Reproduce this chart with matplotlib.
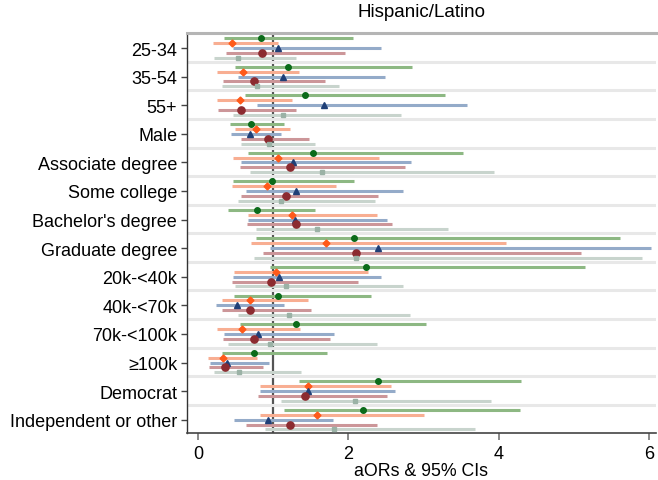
"""
Forest plot: adjusted odds ratios and 95% CIs, Hispanic/Latino panel.

Five models per covariate, drawn as stacked CI bars with point estimates.
Output: out.png (658x481)
"""

import matplotlib

matplotlib.use("Agg")
import matplotlib.pyplot as plt

CATEGORIES = [
    "25-34",
    "35-54",
    "55+",
    "Male",
    "Associate degree",
    "Some college",
    "Bachelor's degree",
    "Graduate degree",
    "20k-<40k",
    "40k-<70k",
    "70k-<100k",
    "≥100k",
    "Democrat",
    "Independent or other",
]

# (estimate, lower, upper) per category, one list per model
GREEN_EST = [0.84, 1.20, 1.42, 0.70, 1.53, 0.99, 0.78, 2.08, 2.23, 1.06, 1.30, 0.74, 2.40, 2.20]
GREEN_LO = [0.35, 0.50, 0.62, 0.43, 0.66, 0.47, 0.40, 0.77, 0.96, 0.48, 0.56, 0.32, 1.34, 1.15]
GREEN_HI = [2.06, 2.85, 3.29, 1.15, 3.53, 2.07, 1.56, 5.61, 5.14, 2.30, 3.03, 1.72, 4.29, 4.28]

ORANGE_EST = [0.46, 0.60, 0.56, 0.77, 1.06, 0.92, 1.25, 1.70, 1.04, 0.69, 0.59, 0.33, 1.46, 1.58]
ORANGE_LO = [0.20, 0.26, 0.25, 0.50, 0.47, 0.46, 0.66, 0.71, 0.48, 0.32, 0.26, 0.14, 0.83, 0.83]
ORANGE_HI = [1.06, 1.35, 1.25, 1.23, 2.41, 1.84, 2.38, 4.10, 2.26, 1.46, 1.36, 0.78, 2.57, 3.01]

BLUE_EST = [1.07, 1.13, 1.68, 0.69, 1.27, 1.30, 1.29, 2.39, 1.08, 0.52, 0.80, 0.39, 1.47, 0.93]
BLUE_LO = [0.47, 0.53, 0.78, 0.44, 0.58, 0.64, 0.67, 0.96, 0.47, 0.24, 0.35, 0.16, 0.82, 0.48]
BLUE_HI = [2.43, 2.49, 3.58, 1.10, 2.83, 2.73, 2.51, 6.02, 2.44, 1.14, 1.81, 0.95, 2.62, 1.79]

MAROON_EST = [0.85, 0.74, 0.58, 0.93, 1.23, 1.17, 1.30, 2.10, 0.97, 0.69, 0.75, 0.36, 1.42, 1.22]
MAROON_LO = [0.37, 0.33, 0.27, 0.58, 0.56, 0.58, 0.65, 0.86, 0.45, 0.32, 0.33, 0.15, 0.80, 0.64]
MAROON_HI = [1.96, 1.69, 1.31, 1.48, 2.75, 2.40, 2.58, 5.09, 2.13, 1.50, 1.75, 0.87, 2.52, 2.38]

GRAY_EST = [0.53, 0.78, 1.13, 0.94, 1.65, 1.10, 1.59, 2.10, 1.17, 1.21, 0.96, 0.55, 2.09, 1.81]
GRAY_LO = [0.22, 0.32, 0.47, 0.57, 0.69, 0.53, 0.77, 0.74, 0.50, 0.54, 0.40, 0.22, 1.11, 0.89]
GRAY_HI = [1.31, 1.88, 2.70, 1.56, 3.93, 2.35, 3.33, 5.90, 2.73, 2.82, 2.38, 1.37, 3.89, 3.68]

X_TICKS = [0, 2, 4, 6]
TITLE = "Hispanic/Latino"
X_LABEL = "aORs & 95% CIs"

# line colour, marker colour, marker, marker size, vertical offset
STYLES = [
    ("#8db883", "#0b6b1a", "o", 4.0, -0.34),
    ("#f8ae92", "#ff5a1a", "D", 3.5, -0.17),
    ("#94abc9", "#1f3f77", "^", 4.0, 0.0),
    ("#cc9699", "#8c2b30", "o", 5.2, 0.17),
    ("#c8d4cd", "#9bb2a6", "s", 3.2, 0.34),
]


def _series():
    return [
        (GREEN_EST, GREEN_LO, GREEN_HI),
        (ORANGE_EST, ORANGE_LO, ORANGE_HI),
        (BLUE_EST, BLUE_LO, BLUE_HI),
        (MAROON_EST, MAROON_LO, MAROON_HI),
        (GRAY_EST, GRAY_LO, GRAY_HI),
    ]


def _draw(ax):
    n = len(CATEGORIES)
    ys = list(range(n))

    # reference line at OR = 1, separators drawn over it
    ax.axvline(1, color="#555555", lw=1.6, zorder=1)
    for i in range(n - 1):
        ax.axhline(i + 0.48, color="#e8e8e8", lw=2.2, zorder=2)

    for (est, lo, hi), (lc, mc, mk, ms, off) in zip(_series(), STYLES):
        yy = [y + off for y in ys]
        ax.hlines(yy, lo, hi, colors=lc, lw=2.2, zorder=3)
        ax.plot(est, yy, linestyle="none", marker=mk, ms=ms,
                color=mc, markeredgecolor=mc, zorder=4)

    ax.set_yticks(ys)
    ax.set_yticklabels(CATEGORIES)
    ax.set_ylim(n - 1 + 0.46, -0.52)
    ax.set_xlim(-0.146, 6.09)
    ax.set_xticks(X_TICKS)
    ax.set_xticklabels([str(t) for t in X_TICKS])
    ax.set_xlabel(X_LABEL, fontsize=12.8, labelpad=0)
    ax.set_title(TITLE, fontsize=13.5, pad=12)

    ax.spines["right"].set_visible(False)
    ax.spines["top"].set_color("#b5b5b5")
    ax.spines["top"].set_linewidth(2.2)
    ax.spines["left"].set_color("#333333")
    ax.spines["bottom"].set_color("#444444")
    ax.spines["left"].set_linewidth(1.0)
    ax.spines["bottom"].set_linewidth(1.2)
    ax.tick_params(axis="y", length=4, width=1, color="#444444", labelsize=13, pad=3)
    ax.tick_params(axis="x", length=5, width=1.2, color="#777777", labelsize=13, pad=4)


def main() -> None:
    plt.rcParams["font.family"] = ["Liberation Sans", "DejaVu Sans"]
    fig = plt.figure(figsize=(6.58, 4.81), dpi=100)
    ax = fig.add_axes([0.284, 0.098, 0.713, 0.831])
    _draw(ax)
    fig.savefig("out.png", dpi=100)
    plt.close(fig)


if __name__ == "__main__":
    main()
